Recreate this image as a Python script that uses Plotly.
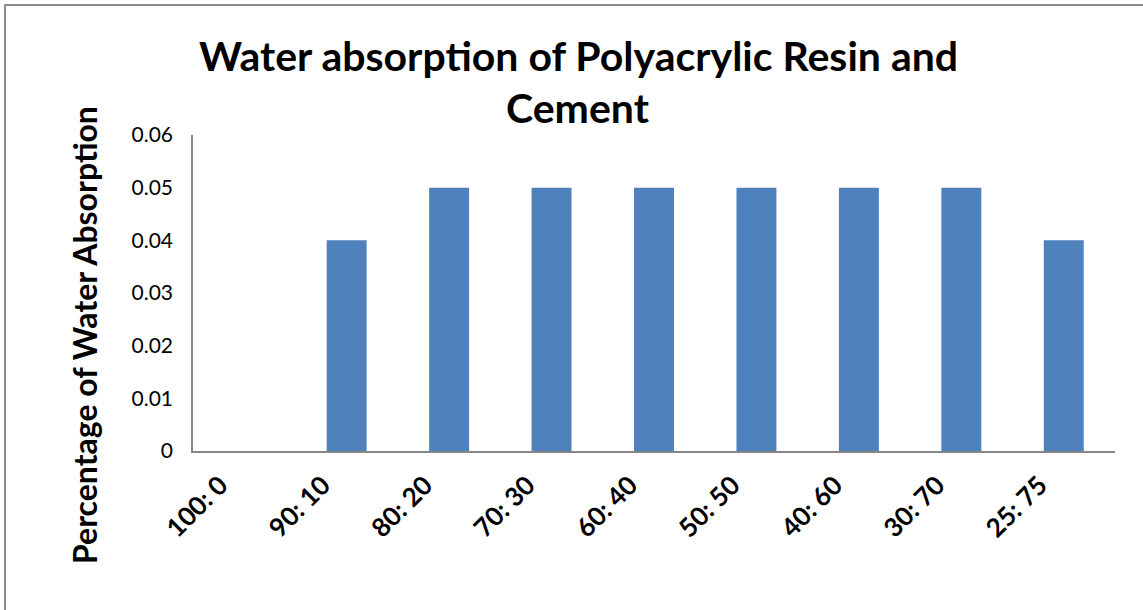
import plotly.graph_objects as go

categories = ["100: 0", "90: 10", "80: 20", "70: 30", "60: 40", "50: 50", "40: 60", "30: 70", "25: 75"]
values = [0, 0.04, 0.05, 0.05, 0.05, 0.05, 0.05, 0.05, 0.04]
y_ticks = [0, 0.01, 0.02, 0.03, 0.04, 0.05, 0.06]
y_tick_labels = ["0", "0.01", "0.02", "0.03", "0.04", "0.05", "0.06"]
title_line1 = "Water absorption of Polyacrylic Resin and"
title_line2 = "Cement"
y_title = "Percentage of Water Absorption"

W, H = 1143, 610
PL, PR, PT, PB = 193, 1115, 135, 451  # plot area in pixels
pw, ph = PR - PL, PB - PT
L, T, R, B = PL, PT, W - PR, H - PB

def px(x):
    return (x - PL) / pw

def py(y):
    return (PB - y) / ph

FONT = "Lato"

fig = go.Figure(go.Bar(x=categories, y=values, marker=dict(color="#4F81BD", line=dict(width=0))))

fig.update_layout(
    width=W, height=H,
    margin=dict(l=L, r=R, t=T, b=B, autoexpand=False),
    paper_bgcolor="white", plot_bgcolor="white",
    bargap=0.61,
    showlegend=False,
    font=dict(family=FONT, color="#000000"),
)
fig.update_xaxes(
    showline=True, linecolor="#868686", linewidth=1.5,
    showgrid=False, ticks="", tickangle=-45,
    ticklabelshift=-24, ticklabelstandoff=7,
    tickfont=dict(family=FONT, size=26, color="#000000", weight="bold"),
)
fig.update_yaxes(
    range=[0, 0.06], tickvals=y_ticks, ticktext=y_tick_labels,
    showline=True, linecolor="#868686", linewidth=1.5,
    showgrid=False, ticks="", ticklabelstandoff=14,
    tickfont=dict(family=FONT, size=21, color="#000000"),
    zeroline=False,
)

fig.add_annotation(text=f"<b>{title_line1}</b>", xref="paper", yref="paper", x=px(578), y=py(55),
                   showarrow=False, font=dict(family=FONT, size=41, color="#000000"), xanchor="center", yanchor="middle")
fig.add_annotation(text=f"<b>{title_line2}</b>", xref="paper", yref="paper", x=px(578), y=py(107),
                   showarrow=False, font=dict(family=FONT, size=41, color="#000000"), xanchor="center", yanchor="middle")
fig.add_annotation(text=f"<b>{y_title}</b>", xref="paper", yref="paper", x=px(84), y=py(335),
                   showarrow=False, textangle=-90, font=dict(family=FONT, size=32, color="#000000"),
                   xanchor="center", yanchor="middle")

fig.add_shape(type="rect", xref="paper", yref="paper", x0=px(5), y0=py(640), x1=px(1170), y1=py(5),
              line=dict(color="#8c8c8c", width=2), fillcolor="rgba(0,0,0,0)", layer="below")

fig.write_html("out.html", config={"displayModeBar": False},
               post_script="document.body.style.margin='0px';document.body.style.overflow='hidden';")
